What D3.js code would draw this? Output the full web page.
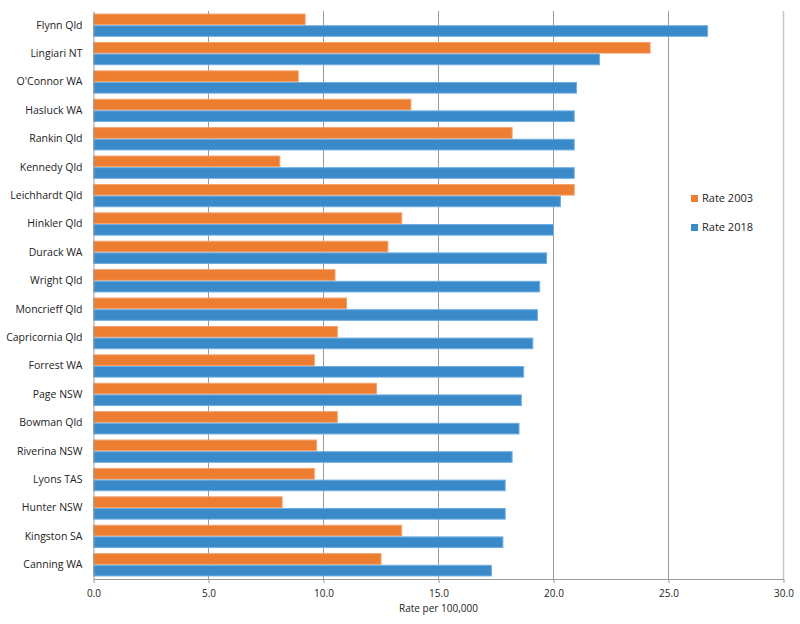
<!DOCTYPE html>
<html>
<head>
<meta charset="utf-8">
<script src="https://cdn.jsdelivr.net/npm/d3@7"></script>
<style>
  body { margin: 0; background: #fff; }
  text { font-family: "Open Sans", sans-serif; fill: #222; }
</style>
</head>
<body>
<div id="chart"></div>
<script>
// Data
const electorates = ["Flynn Qld", "Lingiari NT", "O'Connor WA", "Hasluck WA", "Rankin Qld",
  "Kennedy Qld", "Leichhardt Qld", "Hinkler Qld", "Durack WA", "Wright Qld",
  "Moncrieff Qld", "Capricornia Qld", "Forrest WA", "Page NSW", "Bowman Qld",
  "Riverina NSW", "Lyons TAS", "Hunter NSW", "Kingston SA", "Canning WA"];
const rate2003 = [9.2, 24.2, 8.9, 13.8, 18.2, 8.1, 20.9, 13.4, 12.8, 10.5,
  11.0, 10.6, 9.6, 12.3, 10.6, 9.7, 9.6, 8.2, 13.4, 12.5];
const rate2018 = [26.7, 22.0, 21.0, 20.9, 20.9, 20.9, 20.3, 20.0, 19.7, 19.4,
  19.3, 19.1, 18.7, 18.6, 18.5, 18.2, 17.9, 17.9, 17.8, 17.3];
const seriesNames = ["Rate 2003", "Rate 2018"];
const xTicks = [0, 5, 10, 15, 20, 25, 30];

const width = 800;
const height = 624;
const colors = { "Rate 2003": "#ed7d31", "Rate 2018": "#3a8ac9" };
const strokes = { "Rate 2003": "#f4a06a", "Rate 2018": "#6faee2" };

const svg = d3.select("#chart")
    .append("svg")
    .attr("width", width)
    .attr("height", height);

const x = d3.scaleLinear().domain([0, 30]).range([93.5, 783.5]);
const y = d3.scaleBand().domain(electorates).range([11, 579])
    .paddingInner(0.18).paddingOuter(0.09);
const ySub = d3.scaleBand().domain(seriesNames).range([0, y.bandwidth()]);

// gridlines
svg.append("g")
    .selectAll("line")
    .data(xTicks.slice(1))
    .enter().append("line")
    .attr("x1", d => x(d)).attr("x2", d => x(d))
    .attr("y1", 11).attr("y2", 579)
    .attr("stroke", d => d === 30 ? "#c8c8c8" : "#9a9a9a")
    .attr("stroke-width", d => d === 30 ? 1.5 : 1);

// bars
const rows = electorates.map((name, i) => ({
    name: name,
    values: [
        { key: "Rate 2003", value: rate2003[i] },
        { key: "Rate 2018", value: rate2018[i] }
    ]
}));

svg.append("g")
    .selectAll("g")
    .data(rows)
    .enter().append("g")
    .attr("transform", d => "translate(0," + y(d.name) + ")")
    .selectAll("rect")
    .data(d => d.values)
    .enter().append("rect")
    .attr("x", x(0))
    .attr("y", d => ySub(d.key) + 0.5)
    .attr("width", d => x(d.value) - x(0))
    .attr("height", ySub.bandwidth() - 1)
    .attr("fill", d => colors[d.key])
    .attr("stroke", d => strokes[d.key])
    .attr("stroke-width", 1);

// x axis
const xAxis = d3.axisBottom(x)
    .tickValues(xTicks)
    .tickFormat(d3.format(".1f"))
    .tickSizeInner(4)
    .tickSizeOuter(0)
    .tickPadding(7);

const gx = svg.append("g")
    .attr("transform", "translate(0,579)")
    .call(xAxis);
gx.select(".domain").attr("stroke", "#9a9a9a");
gx.selectAll(".tick line").attr("stroke", "#9a9a9a");
gx.selectAll(".tick text")
    .style("font-family", "Open Sans, sans-serif")
    .style("font-size", "10px")
    .attr("fill", "#222");

// y axis
const yAxis = d3.axisLeft(y).tickSize(0).tickPadding(11);
const gy = svg.append("g")
    .attr("transform", "translate(93.5,0)")
    .call(yAxis);
gy.select(".domain").attr("stroke", "#9a9a9a");
gy.selectAll(".tick text")
    .style("font-family", "Open Sans, sans-serif")
    .style("font-size", "10.5px")
    .attr("fill", "#222");

// axis title
svg.append("text")
    .attr("x", (x(0) + x(30)) / 2)
    .attr("y", 612)
    .attr("text-anchor", "middle")
    .style("font-size", "10px")
    .text("Rate per 100,000");

// legend
const legend = svg.append("g")
    .attr("class", "legend")
    .attr("transform", "translate(691, 195)");

legend.selectAll("rect")
    .data(seriesNames)
    .enter().append("rect")
    .attr("x", 0)
    .attr("y", (d, i) => i * 29)
    .attr("width", 7)
    .attr("height", 7)
    .attr("fill", d => colors[d]);

legend.selectAll("text")
    .data(seriesNames)
    .enter().append("text")
    .attr("x", 11)
    .attr("y", (d, i) => i * 29 + 3.5)
    .attr("dy", "0.35em")
    .style("font-size", "11px")
    .text(d => d);
</script>
</body>
</html>
